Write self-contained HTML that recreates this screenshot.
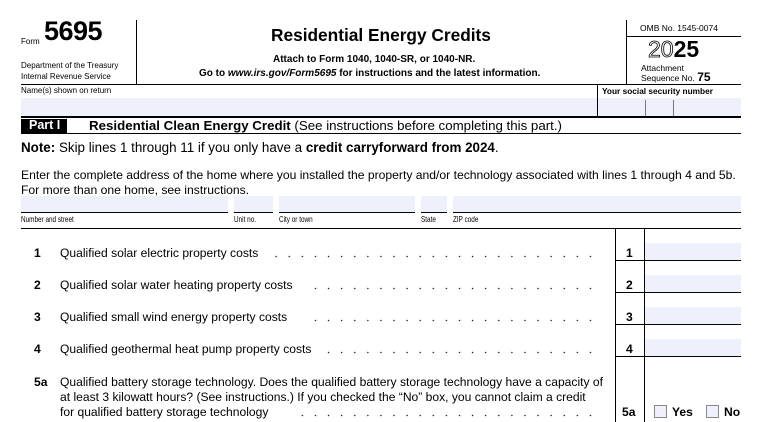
<!DOCTYPE html>
<html><head><style>
body{margin:0;width:776px;height:422px;background:#fff;position:relative;overflow:hidden;font-family:"Liberation Sans",Arial,sans-serif;color:#000}
div,span{position:absolute;white-space:nowrap}
.h{height:1px;background:#000}
.v{width:1px;background:#000}
.f{background:#eef0fb}
.s{font-size:8.5px;transform:scaleX(0.75);transform-origin:left top}
.r{font-size:12.1px}
.dots{height:3px;background:radial-gradient(circle at 1.5px 1.5px,#222 0.6px,transparent 0.9px) right top/13.1px 3px repeat-x}
.cb{width:11px;height:11px;border:1px solid #888;background:#eef0fb}
</style></head><body>
<div style="left:21px;top:37px;font-size:8px">Form</div>
<div style="left:44px;top:16px;font-size:27px;font-weight:bold;letter-spacing:-0.5px">5695</div>
<div style="left:21px;top:61px;font-size:8px">Department of the Treasury</div>
<div style="left:21px;top:72px;font-size:8px">Internal Revenue Service</div>
<div class="v" style="left:136px;top:20px;height:64px"></div>
<div style="left:271px;top:25px;font-size:17.3px;font-weight:bold">Residential Energy Credits</div>
<div style="left:273px;top:54px;font-size:10px;font-weight:bold">Attach to Form 1040, 1040-SR, or 1040-NR.</div>
<div style="left:199px;top:68px;font-size:10px;font-weight:bold">Go to <i>www.irs.gov/Form5695</i> for instructions and the latest information.</div>
<div class="v" style="left:626px;top:20px;height:64px"></div>
<div style="left:640px;top:23px;font-size:8.5px">OMB No. 1545-0074</div>
<div class="h" style="left:626px;top:36px;width:115px"></div>
<div style="left:648px;top:36px;font-size:23px;font-weight:bold"><span style="position:static;color:#fff;-webkit-text-stroke:0.8px #000;font-weight:normal">20</span>25</div>
<div style="left:641px;top:64px;font-size:8.5px;line-height:9px">Attachment<br>Sequence No. <b style="font-size:12px">75</b></div>
<div class="h" style="left:21px;top:84px;width:720px"></div>
<div style="left:21px;top:86px;font-size:8px">Name(s) shown on return</div>
<div style="left:602px;top:86px;font-size:8.3px;font-weight:bold">Your social security number</div>
<div class="f" style="left:21px;top:98px;width:720px;height:18px"></div>
<div class="v" style="left:597px;top:84px;height:32px"></div>
<div class="v" style="left:645px;top:100px;height:16px;background:#777"></div>
<div class="v" style="left:673px;top:100px;height:16px;background:#777"></div>
<div class="h" style="left:21px;top:116px;width:720px;height:1.5px"></div>
<div style="left:21px;top:119px;width:46px;height:14px;background:#000"></div>
<div style="left:29px;top:118px;font-size:12.5px;font-weight:bold;color:#fff">Part I</div>
<div style="left:89px;top:118px;font-size:13.3px"><b>Residential Clean Energy Credit</b> (See instructions before completing this part.)</div>
<div class="h" style="left:21px;top:133px;width:720px"></div>
<div style="left:21px;top:140px;font-size:13.4px"><b>Note:</b> Skip lines 1 through 11 if you only have a <b>credit carryforward from 2024</b>.</div>
<div style="left:21px;top:168px;font-size:12.15px;line-height:14.5px">Enter the complete address of the home where you installed the property and/or technology associated with lines 1 through 4 and 5b.<br>For more than one home, see instructions.</div>
<div class="f" style="left:21px;top:196px;width:207px;height:16px"></div>
<div class="f" style="left:234px;top:196px;width:39px;height:16px"></div>
<div class="f" style="left:279px;top:196px;width:136px;height:16px"></div>
<div class="f" style="left:421px;top:196px;width:26px;height:16px"></div>
<div class="f" style="left:453px;top:196px;width:288px;height:16px"></div>
<div class="h" style="left:21px;top:212px;width:207px"></div>
<div class="h" style="left:234px;top:212px;width:39px"></div>
<div class="h" style="left:279px;top:212px;width:136px"></div>
<div class="h" style="left:421px;top:212px;width:26px"></div>
<div class="h" style="left:453px;top:212px;width:288px"></div>
<div class="s" style="left:21px;top:214px">Number and street</div>
<div class="s" style="left:234px;top:214px">Unit no.</div>
<div class="s" style="left:279px;top:214px">City or town</div>
<div class="s" style="left:421px;top:214px">State</div>
<div class="s" style="left:453px;top:214px">ZIP code</div>
<div class="h" style="left:21px;top:228px;width:720px"></div>
<div class="v" style="left:615px;top:228px;height:194px"></div>
<div class="v" style="left:644px;top:228px;height:194px"></div>

<div class="f" style="left:645px;top:243px;width:96px;height:17px"></div>
<div class="h" style="left:615px;top:260px;width:126px"></div>
<div class="r" style="left:34px;top:246px;font-weight:bold">1</div>
<div class="r" style="left:60px;top:246px">Qualified solar electric property costs</div>
<div class="dots" style="left:275px;top:255px;width:327px"></div>
<div class="r" style="left:626px;top:246px;font-weight:bold">1</div>

<div class="f" style="left:645px;top:275px;width:96px;height:17px"></div>
<div class="h" style="left:615px;top:292px;width:126px"></div>
<div class="r" style="left:34px;top:278px;font-weight:bold">2</div>
<div class="r" style="left:60px;top:278px">Qualified solar water heating property costs</div>
<div class="dots" style="left:305px;top:287px;width:297px"></div>
<div class="r" style="left:626px;top:278px;font-weight:bold">2</div>

<div class="f" style="left:645px;top:307px;width:96px;height:17px"></div>
<div class="h" style="left:615px;top:324px;width:126px"></div>
<div class="r" style="left:34px;top:310px;font-weight:bold">3</div>
<div class="r" style="left:60px;top:310px">Qualified small wind energy property costs</div>
<div class="dots" style="left:305px;top:319px;width:297px"></div>
<div class="r" style="left:626px;top:310px;font-weight:bold">3</div>

<div class="f" style="left:645px;top:339px;width:96px;height:17px"></div>
<div class="h" style="left:615px;top:356px;width:126px"></div>
<div class="r" style="left:34px;top:342px;font-weight:bold">4</div>
<div class="r" style="left:60px;top:342px">Qualified geothermal heat pump property costs</div>
<div class="dots" style="left:321px;top:351px;width:281px"></div>
<div class="r" style="left:626px;top:342px;font-weight:bold">4</div>

<div class="r" style="left:34px;top:375px;font-weight:bold">5a</div>
<div class="r" style="left:60px;top:375px;line-height:15px">Qualified battery storage technology. Does the qualified battery storage technology have a capacity of<br>at least 3 kilowatt hours? (See instructions.) If you checked the “No” box, you cannot claim a credit<br>for qualified battery storage technology</div>
<div class="dots" style="left:292px;top:414px;width:310px"></div>
<div class="r" style="left:622px;top:405px;font-weight:bold">5a</div>
<div class="cb" style="left:654px;top:405px"></div>
<div class="r" style="left:672px;top:405px;font-weight:bold">Yes</div>
<div class="cb" style="left:706px;top:405px"></div>
<div class="r" style="left:724px;top:405px;font-weight:bold">No</div>
</body></html>
